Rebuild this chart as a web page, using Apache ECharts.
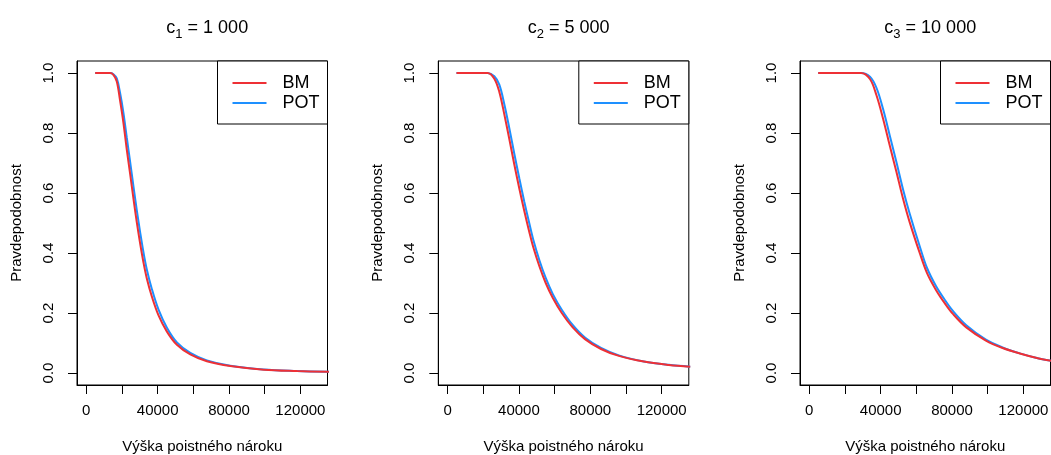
<!DOCTYPE html>
<html>
<head>
<meta charset="utf-8">
<script src="https://cdn.jsdelivr.net/npm/echarts@6/dist/echarts.min.js"></script>
<style>html,body{margin:0;padding:0;background:#fff}#c{width:1051px;height:455px}</style>
</head>
<body>
<div id="c"></div>
<script>
const xTicks = [0, 20000, 40000, 60000, 80000, 100000, 120000];
const xLabels = [0, 40000, 80000, 120000];
const yTicks = [0, 0.2, 0.4, 0.6, 0.8, 1.0];
const seriesNames = ['BM', 'POT'];
const titleSubs = ['1', '2', '3'];
const titleValues = ['1 000', '5 000', '10 000'];
const xName = 'Výška poistného nároku';
const yName = 'Pravdepodobnost';

const x1 = [5000,13300,15200,17100,18900,20800,22700,24600,26400,28300,30200,32000,33900,36700,40500,45200,50800,58300,67600,80700,99500,118200,136000];
const bm1 = [1.0,1.0,0.994,0.972,0.91,0.835,0.745,0.663,0.583,0.503,0.431,0.370,0.316,0.256,0.192,0.138,0.094,0.062,0.039,0.023,0.011,0.0065,0.004];
const pot1 = [1.0,1.0,0.996,0.982,0.935,0.868,0.785,0.703,0.624,0.543,0.469,0.404,0.346,0.281,0.211,0.151,0.102,0.067,0.042,0.024,0.0115,0.0066,0.004];

const x2 = [5000,22400,26200,29000,31800,34600,37400,40200,43000,45800,48000,51500,55000,59000,64000,70000,77000,86000,96000,110000,124000,136000];
const bm2 = [1.0,1.0,0.981,0.937,0.862,0.78,0.695,0.615,0.54,0.47,0.42,0.355,0.30,0.25,0.200,0.153,0.113,0.080,0.057,0.038,0.027,0.021];
const pot2 = [1.0,1.0,0.989,0.961,0.896,0.816,0.731,0.649,0.571,0.499,0.445,0.375,0.317,0.263,0.211,0.161,0.1185,0.0835,0.0588,0.0385,0.0272,0.021];

const x3 = [5000,29000,34000,37700,41400,45100,48900,52600,56300,61900,66000,71000,76000,80500,88000,99000,108000,118000,127000,136000];
const bm3 = [1.0,1.0,0.98,0.925,0.847,0.758,0.669,0.58,0.502,0.40,0.333,0.277,0.232,0.197,0.152,0.108,0.084,0.065,0.051,0.04];
const pot3 = [1.0,1.0,0.988,0.95,0.879,0.792,0.702,0.611,0.531,0.4225,0.35,0.29,0.2435,0.2068,0.159,0.111,0.086,0.0655,0.051,0.04];

const panels = [
  {x: x1, bm: bm1, pot: pot1, left: 77},
  {x: x2, bm: bm2, pot: pot2, left: 438.3},
  {x: x3, bm: bm3, pot: pot3, left: 800}
];
const W = 250.5, TOP = 61, H = 324;
const FONT = '"Liberation Sans", Arial, Helvetica, sans-serif';
const RED = '#EE3035', BLUE = '#1E90FF';

const zip = (xs, ys) => xs.map((v, i) => [v, ys[i]]);

const option = {
  animation: false,
  backgroundColor: '#fff',
  textStyle: {fontFamily: FONT, color: '#000'},
  title: [], legend: [], grid: [], xAxis: [], yAxis: [], series: []
};

panels.forEach((p, i) => {
  option.grid.push({left: p.left, top: TOP, width: W, height: H, show: true,
    outerBoundsMode: 'none', containLabel: false,
    borderColor: '#000', borderWidth: 1, backgroundColor: 'transparent'});
  option.title.push({
    left: p.left + W / 2, top: 10, textAlign: 'center',
    text: '{m|c}{s|' + titleSubs[i] + '}{m| = ' + titleValues[i] + '}',
    textStyle: {fontWeight: 'normal', rich: {
      m: {fontFamily: FONT, fontSize: 18, fontWeight: 'normal', color: '#000', lineHeight: 26, verticalAlign: 'middle'},
      s: {fontFamily: FONT, fontSize: 13, fontWeight: 'normal', color: '#000', lineHeight: 13, verticalAlign: 'bottom'}
    }}
  });
  option.xAxis.push({
    type: 'value', gridIndex: i, min: -5200, max: 135200,
    splitLine: {show: false},
    axisLine: {show: true, onZero: false, lineStyle: {color: '#000', width: 1}},
    axisTick: {show: true, length: 9, customValues: xTicks, lineStyle: {color: '#000', width: 1}},
    axisLabel: {customValues: xLabels, margin: 18, fontSize: 15, color: '#000', fontFamily: FONT,
      formatter: v => String(v)},
    name: xName, nameLocation: 'middle', nameGap: 54,
    nameTextStyle: {fontSize: 15, color: '#000', fontFamily: FONT}
  });
  option.yAxis.push({
    type: 'value', gridIndex: i, min: -0.04, max: 1.04,
    splitLine: {show: false},
    axisLine: {show: true, onZero: false, lineStyle: {color: '#000', width: 1}},
    axisTick: {show: true, length: 9, customValues: yTicks, lineStyle: {color: '#000', width: 1}},
    axisLabel: {customValues: yTicks, rotate: 90, margin: 21, fontSize: 15, color: '#000', fontFamily: FONT,
      formatter: v => v.toFixed(1)},
    name: yName, nameLocation: 'middle', nameRotate: 90, nameGap: 53,
    nameTextStyle: {fontSize: 15, color: '#000', fontFamily: FONT}
  });
  option.legend.push({
    orient: 'vertical', left: p.left + W - 110, top: TOP,
    data: seriesNames, icon: 'rect',
    backgroundColor: '#fff', borderColor: '#000', borderWidth: 1, borderRadius: 0,
    padding: [12, 8, 11, 15], itemGap: 0, itemWidth: 34, itemHeight: 2,
    textStyle: {fontSize: 18, color: '#000', fontFamily: FONT, padding: [0, 0, 0, 11], lineHeight: 20},
    selectedMode: false
  });
  option.series.push({
    name: 'POT', type: 'line', xAxisIndex: i, yAxisIndex: i, data: zip(p.x, p.pot),
    showSymbol: false, symbol: 'none', smooth: 0.35,
    lineStyle: {color: BLUE, width: 2}, itemStyle: {color: BLUE}
  });
  option.series.push({
    name: 'BM', type: 'line', xAxisIndex: i, yAxisIndex: i, data: zip(p.x, p.bm),
    showSymbol: false, symbol: 'none', smooth: 0.35,
    lineStyle: {color: RED, width: 2}, itemStyle: {color: RED}
  });
});

const chart = echarts.init(document.getElementById('c'), null, {renderer: 'canvas'});
chart.setOption(option);
</script>
</body>
</html>
